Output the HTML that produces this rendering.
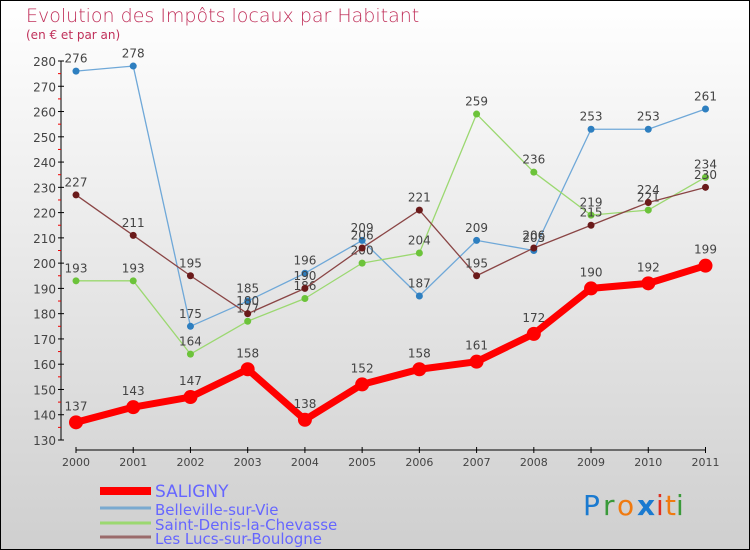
<!DOCTYPE html>
<html><head><meta charset="utf-8"><style>
body{margin:0}
#c{width:750px;height:550px;position:relative;box-sizing:border-box;border:1px solid #000;background:linear-gradient(#fff,#cfcfcf);font-family:"DejaVu Sans","Liberation Sans",sans-serif;overflow:hidden}
</style></head><body>
<div id="c">
<svg id="s" width="750" height="550" style="position:absolute;left:-1px;top:-1px">
<text x="26" y="22" font-size="19" fill="#c0305a" font-family="DejaVu Sans" font-weight="200">Evolution des Impôts locaux par Habitant</text>
<text x="26" y="39" font-size="12" fill="#c0305a">(en € et par an)</text>
<g id="axes"></g><g id="series"></g><g id="legend"></g>
<g font-family="DejaVu Sans" font-size="28">
<text x="583" y="515" fill="#1a7ad0">P</text><text x="603" y="515" fill="#3a9a3a">r</text><text x="617" y="515" fill="#f07a10">o</text><text x="637" y="515" fill="#1a7ad0" font-weight="bold">x</text><text x="656" y="515" fill="#e03020">i</text><text x="665" y="515" fill="#f07a10">t</text><text x="676" y="515" fill="#3a9a3a">i</text>
</g>
</svg>
</div>
<script>
const years=["2000","2001","2002","2003","2004","2005","2006","2007","2008","2009","2010","2011"];
const yTicks=[130,140,150,160,170,180,190,200,210,220,230,240,250,260,270,280];
const saligny=[137,143,147,158,138,152,158,161,172,190,192,199];
const belleville=[276,278,175,185,196,209,187,209,205,253,253,261];
const saintDenis=[193,193,164,177,186,200,204,259,236,219,221,234];
const lesLucs=[227,211,195,180,190,206,221,195,206,215,224,230];
const seriesNames=["SALIGNY","Belleville-sur-Vie","Saint-Denis-la-Chevasse","Les Lucs-sur-Boulogne"];
const NS="http://www.w3.org/2000/svg";
function xs(i){return 76+i*(705.5-76)/11;}
function ys(v){return 440-(v-130)*(440-61)/150;}
function mk(p,tag,a){const e=document.createElementNS(NS,tag);for(const k in a)e.setAttribute(k,a[k]);p.appendChild(e);return e;}
const ax=document.getElementById('axes');
const yl=mk(ax,'line',{x1:61,y1:ys(130),x2:61,y2:ys(280),stroke:'#000'});


const xl=mk(ax,'line',{x1:76,y1:450,x2:706,y2:450,stroke:'#000'});


yTicks.forEach((v,i)=>{const y=ys(v);mk(ax,'line',{x1:58,y1:y,x2:64,y2:y,stroke:'#000'});
if(i<yTicks.length-1)mk(ax,'line',{x1:58,y1:ys(v+5),x2:61,y2:ys(v+5),stroke:'#e00'});
const t=mk(ax,'text',{x:56,y:y+5,'text-anchor':'end','font-size':12,fill:'#444'});t.textContent=v;

});
years.forEach((yr,i)=>{const x=xs(i);mk(ax,'line',{x1:x,y1:447,x2:x,y2:453,stroke:'#000'});
const t=mk(ax,'text',{x:x,y:466,'text-anchor':'middle','font-size':11,fill:'#444'});t.textContent=yr;

});
const sg=document.getElementById('series');
function draw(data,color,w,r,name,fc){
const g=mk(sg,'g',{});


mk(g,'polyline',{points:data.map((v,i)=>xs(i)+','+ys(v)).join(' '),fill:'none',stroke:color,'stroke-width':w,'stroke-linejoin':'round'});
data.forEach((v,i)=>{const c=mk(g,'circle',{cx:xs(i),cy:ys(v),r:r,fill:fc});


const t=mk(g,'text',{x:xs(i),y:ys(v)-(r+5),'text-anchor':'middle','font-size':12,fill:'#444'});t.textContent=v;});}
draw(belleville,'#6fa8d8',1.3,3.5,'series-belleville','#2e7fc0');
draw(saintDenis,'#9bd870',1.3,3.5,'series-saint-denis','#6cc33a');
draw(lesLucs,'#8a4545',1.3,3.5,'series-les-lucs','#6a1a1a');
draw(saligny,'#f00',7,7,'series-saligny','#f00');
const lg=document.getElementById('legend');
const lc=['#f00','#7aaad0','#9bd870','#9a6a6a'],lw=[8,3,3,3],ly=[491,509,524,538];
seriesNames.forEach((n,i)=>{const g=mk(lg,'g',{});


mk(g,'line',{x1:100,y1:ly[i]+(i?-1:0),x2:151,y2:ly[i]+(i?-1:0),stroke:lc[i],'stroke-width':lw[i]});
const t=mk(g,'text',{x:155,y:ly[i]+6,'font-size':i?15:17,fill:'#6666ff'});t.textContent=n;});
</script>
</body></html>
